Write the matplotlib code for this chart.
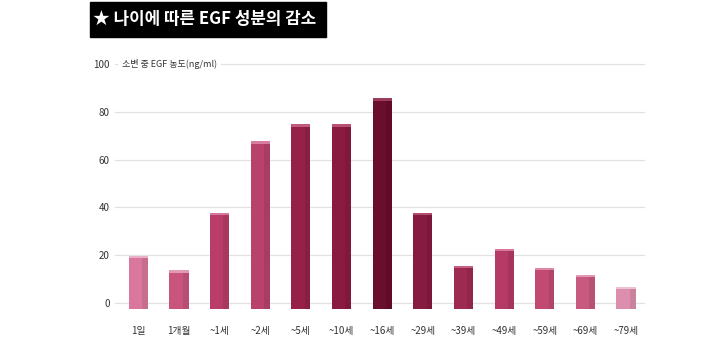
import numpy as np
import matplotlib
matplotlib.use("Agg")
import matplotlib.pyplot as plt
from matplotlib.patches import Rectangle

plt.rcParams['font.family'] = ['Noto Sans CJK KR', 'DejaVu Sans']

# data
ages = ['1일', '1개월', '~1세', '~2세', '~5세', '~10세', '~16세',
        '~29세', '~39세', '~49세', '~59세', '~69세', '~79세']
egf = [19, 13, 37, 67, 74, 74, 85, 37, 15, 22, 14, 11, 6]
yticks = [0, 20, 40, 60, 80, 100]

title = '★ 나이에 따른 EGF 성분의 감소'
unit_label = '소변 중 EGF 농도(ng/ml)'

colors = ['#d9789c', '#c9557e', '#b83d69', '#b8426c', '#952048', '#8a1b40',
          '#6b0d2c', '#871a40', '#9e2a52', '#b53a65', '#c04a72', '#c85a80',
          '#dc8fac']
caps = ['#eab0c6', '#e29ab5', '#d6799c', '#d87d9f', '#c05a7e', '#b85274',
        '#9a3c5a', '#b34c70', '#c56082', '#d6779b', '#de88a9', '#e397b4',
        '#efc2d3']

fig = plt.figure(figsize=(7.2, 3.4), dpi=100)
ax = fig.add_axes([0.16, 0.091, 0.736, 0.728])

x = np.arange(len(ages))
w = 0.47
ax.bar(x, np.array(egf) + 2.5, bottom=-2.5, width=w, color=colors, zorder=3)
# shaded right side for a bit of depth
ax.bar(x + w * 0.35, np.array(egf) + 2.5, bottom=-2.5, width=w * 0.3,
       color='black', alpha=0.08, zorder=4)
# light top cap
ax.bar(x, 1.0, bottom=np.array(egf) - 0.3, width=w, color=caps, zorder=5)

ax.set_xlim(-0.57, 12.47)
ax.set_ylim(-2.5, 101)
ax.set_yticks(yticks)
ax.set_yticklabels([str(v) for v in yticks])
ax.set_xticks(x)
ax.set_xticklabels(ages)
ax.tick_params(axis='both', length=0, labelsize=7, colors='#333333')
ax.tick_params(axis='y', pad=4)
ax.tick_params(axis='x', pad=12)

for v in yticks:
    ax.axhline(v, color='#e2e2e2', lw=0.9, zorder=1)
for s in ax.spines.values():
    s.set_visible(False)

ax.text(0.013, 100, unit_label, transform=ax.get_yaxis_transform(),
        fontsize=6.5, color='#333333', va='center', ha='left', zorder=6,
        bbox=dict(facecolor='white', edgecolor='none', pad=3))

# black title box
fig.patches.append(Rectangle((90 / 720, 1 - 37 / 340), 236 / 720, 35 / 340,
                             transform=fig.transFigure, color='black',
                             zorder=0))
fig.text(93 / 720, 1 - 19.5 / 340, title, color='white', fontsize=12.1,
         fontweight='bold', va='center', ha='left')

fig.savefig('out.png', dpi=100, facecolor='white')
